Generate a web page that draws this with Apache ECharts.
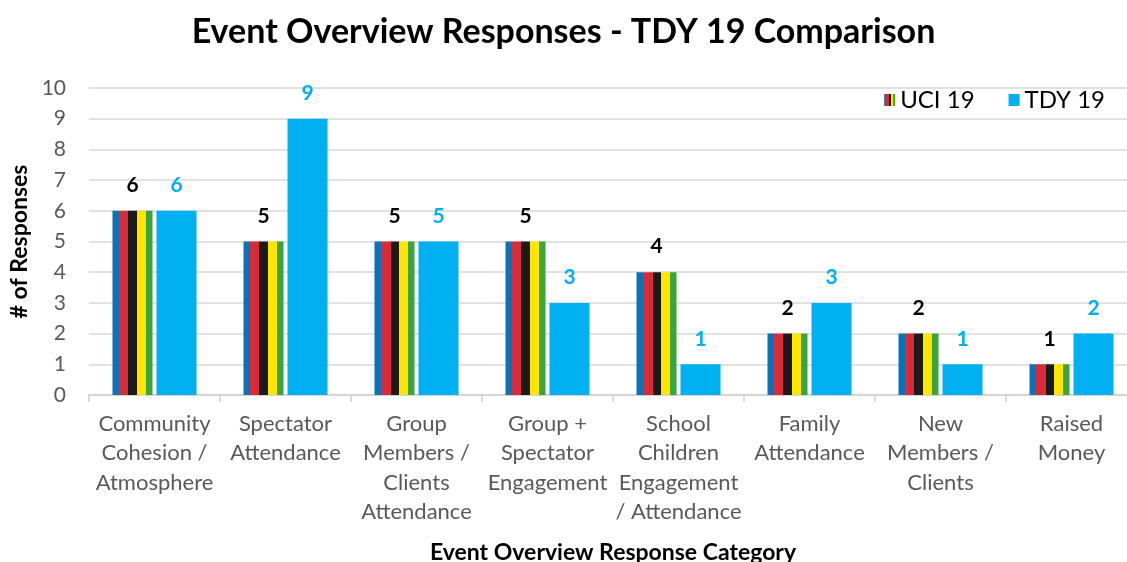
<!DOCTYPE html>
<html>
<head>
<meta charset="utf-8">
<script src="https://cdn.jsdelivr.net/npm/echarts@6/dist/echarts.min.js"></script>
<style>
  html, body { margin: 0; padding: 0; background: #fff; }
  #main { width: 1127px; height: 562px; }
</style>
</head>
<body>
<div id="main"></div>
<script type="text/javascript">
    var categories = [
        'Community\nCohesion /\nAtmosphere',
        'Spectator\nAttendance',
        'Group\nMembers /\nClients\nAttendance',
        'Group +\nSpectator\nEngagement',
        'School\nChildren\nEngagement\n/ Attendance',
        'Family\nAttendance',
        'New\nMembers /\nClients',
        'Raised\nMoney'
    ];
    var uci19 = [6, 5, 5, 5, 4, 2, 2, 1];
    var tdy19 = [6, 9, 5, 3, 1, 3, 1, 2];
    var yTicks = [0, 10, 1];  // min, max, interval

    var font = 'Lato';

    // UCI rainbow stripes (blue, red, black, yellow, green)
    var stripes = [
        ['#0a72b5', 0.167],
        ['#d72b3a', 0.40],
        ['#1b1b1b', 0.61],
        ['#ffe600', 0.835],
        ['#3aa43e', 1]
    ];
    var stops = [];
    var prev = 0;
    stripes.forEach(function (s) {
        stops.push({offset: prev, color: s[0]});
        stops.push({offset: s[1], color: s[0]});
        prev = s[1];
    });
    var uciFill = new echarts.graphic.LinearGradient(0, 0, 1, 0, stops);

    var myChart = echarts.init(document.getElementById('main'));
    myChart.setOption({
        animation: false,
        textStyle: {fontFamily: font},
        title: {
            text: 'Event Overview Responses - TDY 19 Comparison',
            left: 'center',
            top: 10,
            textStyle: {fontFamily: font, fontSize: 34, fontWeight: 'bold', color: '#000'}
        },
        legend: {
            right: 17,
            top: 83,
            itemWidth: 11,
            itemHeight: 12,
            itemGap: 34,
            icon: 'rect',
            textStyle: {fontFamily: font, fontSize: 24, color: '#000'},
            data: ['UCI 19', 'TDY 19']
        },
        grid: {left: 89, right: -10, top: 88, bottom: 167, outerBoundsMode: 'none'},
        xAxis: {
            type: 'category',
            data: categories,
            name: 'Event Overview Response Category',
            nameLocation: 'middle',
            nameGap: 146,
            nameTextStyle: {fontFamily: font, fontSize: 23, fontWeight: 'bold', color: '#000'},
            axisLine: {lineStyle: {color: '#d0d0d0', width: 1.5}},
            axisTick: {show: true, length: 7, lineStyle: {color: '#d0d0d0', width: 1.5}},
            axisLabel: {
                fontFamily: font, fontSize: 22, color: '#595959',
                lineHeight: 29.5, margin: 14, interval: 0
            }
        },
        yAxis: {
            type: 'value',
            min: yTicks[0],
            max: yTicks[1],
            interval: yTicks[2],
            name: '# of Responses',
            nameLocation: 'middle',
            nameGap: 57,
            nameTextStyle: {fontFamily: font, fontSize: 23, fontWeight: 'bold', color: '#000'},
            axisLine: {show: false},
            axisTick: {show: false},
            axisLabel: {fontFamily: font, fontSize: 21, color: '#595959', margin: 23},
            splitLine: {lineStyle: {color: '#d9d9d9', width: 1.5}}
        },
        series: [
            {
                name: 'UCI 19',
                type: 'bar',
                data: uci19,
                barWidth: 40,
                barGap: '10%',
                itemStyle: {color: uciFill},
                label: {
                    show: true, position: 'top', distance: 15,
                    fontFamily: font, fontSize: 21, fontWeight: 'bold', color: '#000'
                }
            },
            {
                name: 'TDY 19',
                type: 'bar',
                data: tdy19,
                barWidth: 40,
                barGap: '10%',
                itemStyle: {color: '#00b0f0'},
                label: {
                    show: true, position: 'top', distance: 15,
                    fontFamily: font, fontSize: 21, fontWeight: 'bold', color: '#00b0f0'
                }
            }
        ]
    });
</script>
</body>
</html>
